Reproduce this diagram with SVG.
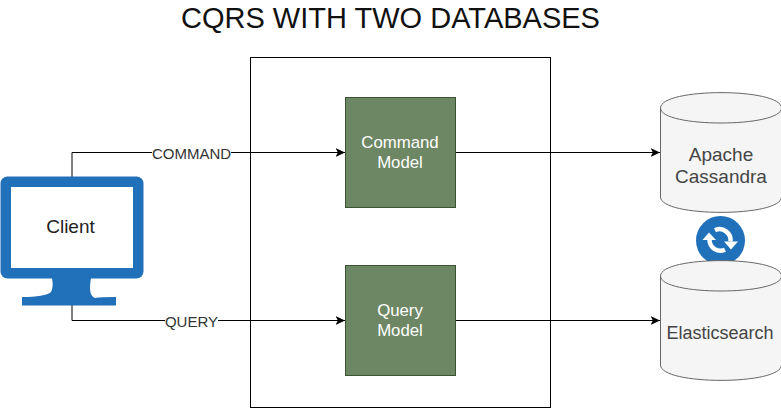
<svg xmlns="http://www.w3.org/2000/svg" width="781" height="408" viewBox="0 0 781 408">
<style>
text{font-family:"Liberation Sans",Arial,sans-serif;text-anchor:middle}
.c{fill:none;stroke:#000;stroke-width:1}
.m{fill:#6d8764;stroke:#3a5431;stroke-width:1}
.mt{fill:#fff;font-size:16.800px}
.db{fill:#f5f5f5;stroke:#666;stroke-width:1}
.dt{fill:#444;font-size:19px}
.l{fill:#333;font-size:15px}
.blue{fill:#2071b9}
.ring{fill:none;stroke:#fff;stroke-width:4.500}
</style>
<defs>
<marker id="a" markerUnits="userSpaceOnUse" markerWidth="12" markerHeight="10" refX="9.500" refY="4.500" orient="auto"><path d="M0 0L9.500 4.500L0 9L2.400 4.500Z" fill="#000"/></marker>
<path id="cyl" d="M0 15.500C0-5 121-5 121 15.500V104.500C121 125 0 125 0 104.500Z"/>
</defs>
<rect width="781" height="408" fill="#fff"/>
<text x="390.500" y="28" font-size="29" fill="#111">CQRS WITH TWO DATABASES</text>
<g id="boundary"><rect x="250.500" y="57.500" width="300" height="350" fill="#fff" stroke="#000"/></g>
<g id="connectors">
<path class="c" d="M72 177V152.500H345" marker-end="url(#a)"/>
<path class="c" d="M72 305V320.500H345" marker-end="url(#a)"/>
<path class="c" d="M455 152.500H660" marker-end="url(#a)"/>
<path class="c" d="M455 320.500H660" marker-end="url(#a)"/>
<rect x="152" y="145" width="79" height="16" fill="#fff"/>
<text class="l" x="191.500" y="158.500">COMMAND</text>
<rect x="165" y="313" width="53" height="16" fill="#fff"/>
<text class="l" x="191.500" y="326.500">QUERY</text>
</g>
<g id="client">
<rect class="blue" x="0.500" y="176.500" width="143" height="102" rx="7"/>
<rect x="11" y="187" width="122" height="81" fill="#fff"/>
<path class="blue" d="M52 278H91C89 290 90 296 95 298Q100 297 116 297V305.500H22V297Q45 297 51 292C53 288 53 284 52 278Z"/>
<text x="70.500" y="232.500" font-size="19" fill="#222">Client</text>
</g>
<g id="command-model">
<rect class="m" x="345.500" y="97.500" width="110" height="110"/>
<text class="mt" x="400" y="148">Command</text><text class="mt" x="400" y="168">Model</text>
</g>
<g id="query-model">
<rect class="m" x="345.500" y="265.500" width="110" height="110"/>
<text class="mt" x="400" y="316">Query</text><text class="mt" x="400" y="336">Model</text>
</g>
<g id="cassandra">
<use href="#cyl" class="db" x="660.500" y="92.500"/>
<path d="M660.500 108C660.500 128 781.500 128 781.500 108" fill="none" stroke="#666"/>
<text class="dt" x="721" y="161">Apache</text><text class="dt" x="721" y="183">Cassandra</text>
</g>
<g id="sync">
<circle class="blue" cx="720.500" cy="240.500" r="24.500"/>
<g transform="translate(720 240)">
<path class="ring" d="M-10.500 0A11 11 0 0 0 5 9.800"/>
<path class="ring" d="M10.500 1.500A11 11 0 0 0 -5 -9.800"/>
<path d="M-11 -7.500L-17.500 0H-4Z" fill="#fff"/>
<path d="M11 9.500L4 1.500H18Z" fill="#fff"/>
</g>
</g>
<g id="elasticsearch">
<use href="#cyl" class="db" x="660.500" y="260.500"/>
<path d="M660.500 276C660.500 296 781.500 296 781.500 276" fill="none" stroke="#666"/>
<text class="dt" x="720" y="339" style="font-size:18px">Elasticsearch</text>
</g>
</svg>
